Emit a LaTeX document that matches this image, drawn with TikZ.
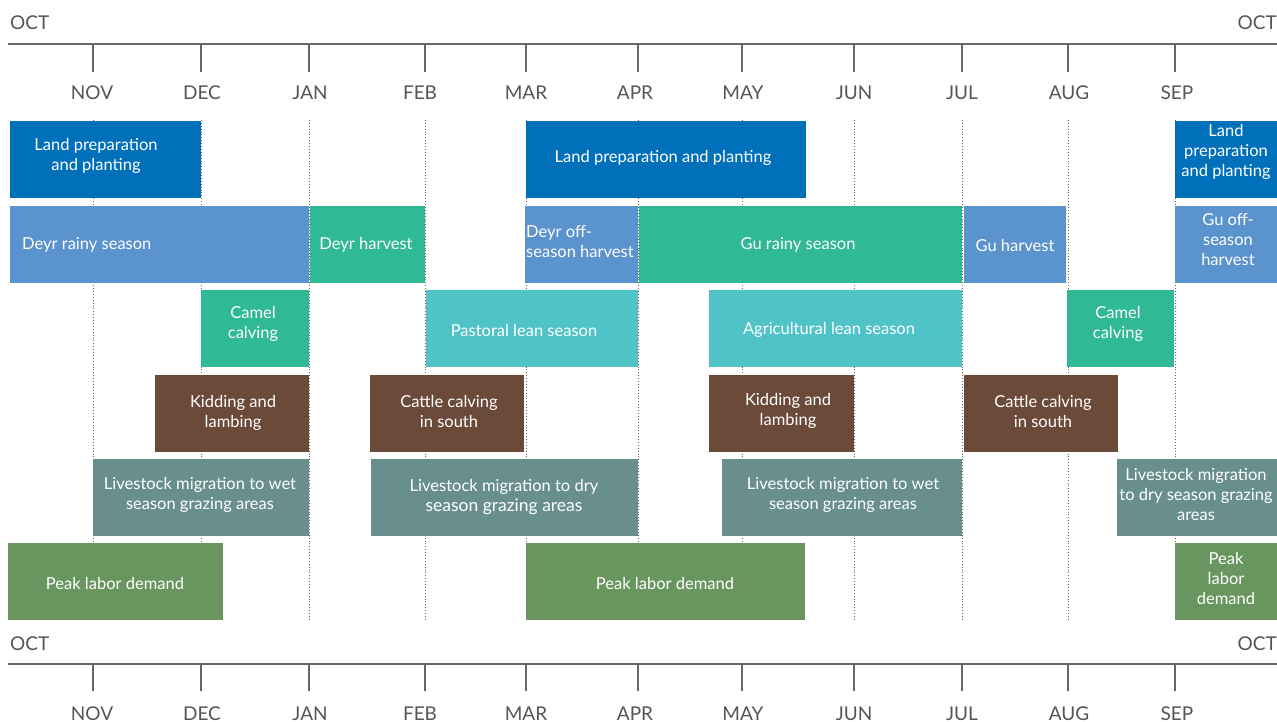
\documentclass[tikz,border=0pt]{standalone}
\usepackage{fontspec}
\setmainfont{Lato}
\definecolor{cLand}{HTML}{0070BA}
\definecolor{cBlue}{HTML}{5B93CE}
\definecolor{cGreen}{HTML}{2FB994}
\definecolor{cCyan}{HTML}{50C3C9}
\definecolor{cBrown}{HTML}{6B4A3A}
\definecolor{cTeal}{HTML}{688F8E}
\definecolor{cOlive}{HTML}{69955F}
\definecolor{cAxis}{HTML}{666666}
\definecolor{cMonth}{HTML}{555555}
\begin{document}
\begin{tikzpicture}[x=1pt,y=-1pt,
  lbl/.style={text=white, align=center, inner sep=0pt, font=\fontsize{16.5}{20}\selectfont},
  month/.style={text=cMonth, anchor=base, inner sep=0pt, font=\fontsize{19}{22}\selectfont},
  axisline/.style={draw=cAxis, line width=2pt},
  tick/.style={draw=cAxis, line width=1.5pt},
  grid/.style={draw=black!60, line width=0.9pt, dotted},
  barbox/.style={fill=#1, draw=none, inner sep=0pt, outer sep=0pt, anchor=north west, minimum height=77pt}]
\useasboundingbox (0,0) rectangle (1277,722);
% month grid lines
\foreach \n/\x in {nov/93,dec/201,jan/309,feb/425,mar/526,apr/638,may/742,jun/854,jul/962,aug/1068,sep/1175}{
  \coordinate (gt-\n) at (\x,120);
  \coordinate (gb-\n) at (\x,621);
  \draw[grid] (gt-\n) -- (gb-\n);
}
% top axis
\coordinate (ta-l) at (8,44);
\coordinate (ta-r) at (1277,44);
\draw[axisline] (ta-l) -- (ta-r);
\node[month, anchor=base west] (toct-l) at (10,30) {OCT};
\node[month, anchor=base east] (toct-r) at (1277,30) {OCT};
\foreach \n/\x/\lx/\m in {nov/93/92/NOV,dec/201/202/DEC,jan/309/310/JAN,feb/425/420/FEB,mar/526/526/MAR,apr/638/635/APR,may/742/743/MAY,jun/854/854/JUN,jul/962/962/JUL,aug/1068/1069/AUG,sep/1175/1177/SEP}{
  \coordinate (tt1-\n) at (\x,45);
  \coordinate (tt2-\n) at (\x,72);
  \draw[tick] (tt1-\n) -- (tt2-\n);
  \node[month] (tm-\n) at (\lx,100) {\m};
}
% bottom axis
\coordinate (ba-l) at (8,664);
\coordinate (ba-r) at (1277,664);
\draw[axisline] (ba-l) -- (ba-r);
\node[month, anchor=base west] (boct-l) at (10,650) {OCT};
\node[month, anchor=base east] (boct-r) at (1277,650) {OCT};
\foreach \n/\x/\lx/\m in {nov/93/92/NOV,dec/201/202/DEC,jan/309/310/JAN,feb/425/420/FEB,mar/526/526/MAR,apr/638/635/APR,may/742/743/MAY,jun/854/854/JUN,jul/962/962/JUL,aug/1068/1069/AUG,sep/1175/1177/SEP}{
  \coordinate (bt1-\n) at (\x,665);
  \coordinate (bt2-\n) at (\x,691);
  \draw[tick] (bt1-\n) -- (bt2-\n);
  \node[month] (bm-\n) at (\lx,720) {\m};
}
% Row 1
\node[barbox=cLand, minimum width=191pt] (lp1) at (10,121) {};
\node[lbl] (lp1-t) at (96,156) {Land preparation\\and planting};
\node[barbox=cLand, minimum width=280pt] (lp2) at (526,121) {};
\node[lbl] (lp2-t) at (663,158) {Land preparation and planting};
\node[barbox=cLand, minimum width=102pt] (lp3) at (1175,121) {};
\node[lbl] (lp3-t) at (1226,152) {Land\\preparation\\and planting};
% Row 2
\node[barbox=cBlue, minimum width=299pt] (dr) at (10,206) {};
\node[lbl, anchor=west] (dr-t) at (22,245) {Deyr rainy season};
\node[barbox=cGreen, minimum width=115pt] (dh) at (310,206) {};
\node[lbl] (dh-t) at (366,245) {Deyr harvest};
\node[barbox=cBlue, minimum width=113pt] (doh) at (525,206) {};
\node[lbl, align=left, anchor=west] (doh-t) at (526,242) {Deyr off-\\season harvest};
\node[barbox=cGreen, minimum width=323pt] (gr) at (639,206) {};
\node[lbl] (gr-t) at (798,245) {Gu rainy season};
\node[barbox=cBlue, minimum width=102pt] (gh) at (964,206) {};
\node[lbl] (gh-t) at (1015,245) {Gu harvest};
\node[barbox=cBlue, minimum width=102pt] (goh) at (1175,206) {};
\node[lbl] (goh-t) at (1228,240) {Gu off-\\season\\harvest};
% Row 3
\node[barbox=cGreen, minimum width=108pt] (cc1) at (201,290) {};
\node[lbl] (cc1-t) at (253,324) {Camel\\calving};
\node[barbox=cCyan, minimum width=212pt] (pl) at (426,290) {};
\node[lbl] (pl-t) at (524,330) {Pastoral lean season};
\node[barbox=cCyan, minimum width=253pt] (al) at (709,290) {};
\node[lbl] (al-t) at (829,330) {Agricultural lean season};
\node[barbox=cGreen, minimum width=107pt] (cc2) at (1067,290) {};
\node[lbl] (cc2-t) at (1118,324) {Camel\\calving};
% Row 4
\node[barbox=cBrown, minimum width=154pt] (kl1) at (155,375) {};
\node[lbl] (kl1-t) at (233,413) {Kidding and\\lambing};
\node[barbox=cBrown, minimum width=154pt] (ct1) at (370,375) {};
\node[lbl] (ct1-t) at (449,411) {Cattle calving\\in south};
\node[barbox=cBrown, minimum width=145pt] (kl2) at (709,375) {};
\node[lbl] (kl2-t) at (788,411) {Kidding and\\lambing};
\node[barbox=cBrown, minimum width=154pt] (ct2) at (964,375) {};
\node[lbl] (ct2-t) at (1043,411) {Cattle calving\\in south};
% Row 5
\node[barbox=cTeal, minimum width=216pt] (lw1) at (93,459) {};
\node[lbl] (lw1-t) at (200,495) {Livestock migration to wet\\season grazing areas};
\node[barbox=cTeal, minimum width=267pt] (ld1) at (371,459) {};
\node[lbl] (ld1-t) at (504,497) {Livestock migration to dry\\{\fontsize{17.5}{22}\selectfont season grazing areas}};
\node[barbox=cTeal, minimum width=240pt] (lw2) at (722,459) {};
\node[lbl] (lw2-t) at (843,495) {Livestock migration to wet\\season grazing areas};
\node[barbox=cTeal, minimum width=160pt] (ld2) at (1117,459) {};
\node[lbl] (ld2-t) at (1196,494) {Livestock migration\\to dry season grazing\\areas};
% Row 6
\node[barbox=cOlive, minimum width=215pt] (pk1) at (8,543) {};
\node[lbl] (pk1-t) at (115,583) {Peak labor demand};
\node[barbox=cOlive, minimum width=279pt] (pk2) at (526,543) {};
\node[lbl] (pk2-t) at (665,583) {Peak labor demand};
\node[barbox=cOlive, minimum width=102pt] (pk3) at (1175,543) {};
\node[lbl] (pk3-t) at (1226,578) {Peak\\labor\\demand};
\end{tikzpicture}
\end{document}
